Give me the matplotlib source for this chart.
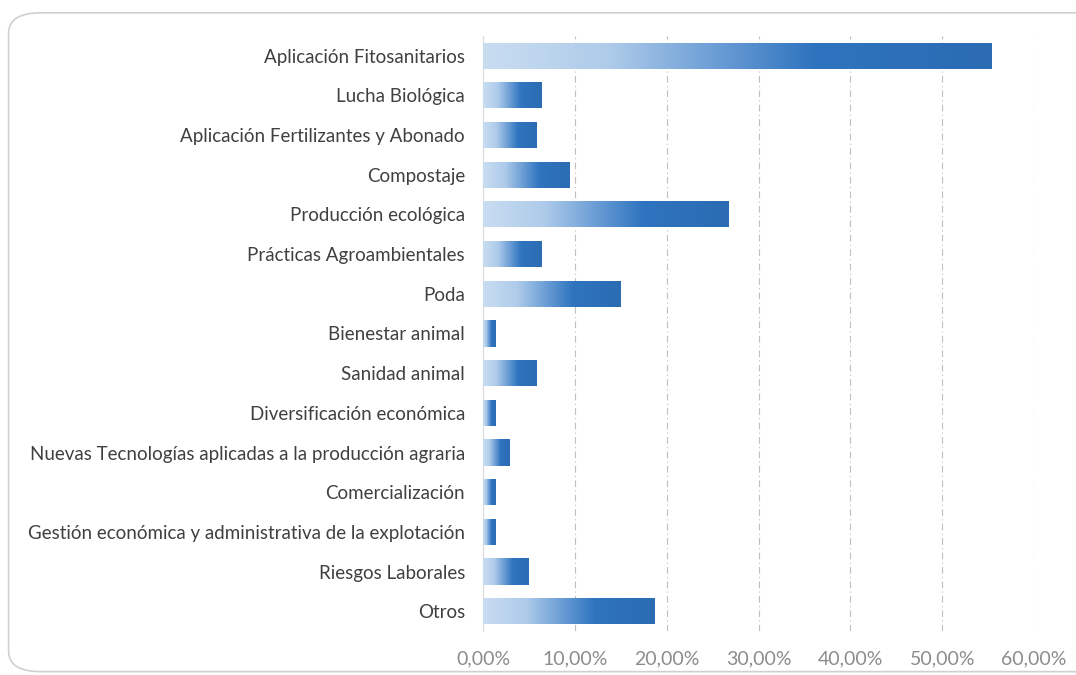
import numpy as np
import matplotlib
matplotlib.use("Agg")
import matplotlib.pyplot as plt
from matplotlib.colors import LinearSegmentedColormap
from matplotlib.patches import FancyBboxPatch
from matplotlib.ticker import FuncFormatter

# datos del gráfico
categorias = [
    "Aplicación Fitosanitarios",
    "Lucha Biológica",
    "Aplicación Fertilizantes y Abonado",
    "Compostaje",
    "Producción ecológica",
    "Prácticas Agroambientales",
    "Poda",
    "Bienestar animal",
    "Sanidad animal",
    "Diversificación económica",
    "Nuevas Tecnologías aplicadas a la producción agraria",
    "Comercialización",
    "Gestión económica y administrativa de la explotación",
    "Riesgos Laborales",
    "Otros",
]
porcentajes = [55.4, 6.4, 5.8, 9.4, 26.7, 6.4, 15.0, 1.4, 5.8, 1.4, 2.9, 1.4, 1.4, 5.0, 18.7]
ticks_x = [0, 10, 20, 30, 40, 50, 60]

plt.rcParams['font.family'] = ['Lato', 'DejaVu Sans']

fig = plt.figure(figsize=(10.76, 6.75), dpi=100)
ax = fig.add_axes([0.449, 0.065, 0.512, 0.882])

# marco redondeado (se sale por la derecha)
marco = FancyBboxPatch((0.008, 0.005), 1.05, 0.976, boxstyle="round,pad=0,rounding_size=0.03",
                       transform=fig.transFigure, facecolor="white", edgecolor="#d0d0d0",
                       linewidth=1.2, zorder=-10)
fig.patches.append(marco)

y = np.arange(len(categorias))
barras = ax.barh(y, porcentajes, height=0.66, color="none", edgecolor="none", zorder=3)

# degradado tipo Excel
cmap = LinearSegmentedColormap.from_list("excel_azul", [
    (0.0, "#c9ddf1"), (0.25, "#aecbea"), (0.45, "#6d9fd6"),
    (0.65, "#2f74bf"), (1.0, "#2b6cb3")])
grad = np.linspace(0, 1, 256).reshape(1, -1)
for b in barras:
    x0, y0 = b.get_x(), b.get_y()
    w, h = b.get_width(), b.get_height()
    im = ax.imshow(grad, cmap=cmap, aspect="auto", extent=(x0, x0 + w, y0 + h, y0),
                   zorder=3, interpolation="bicubic")
    im.set_clip_path(b)

ax.set_xlim(0, 60)
ax.set_ylim(len(categorias) - 0.5, -0.5)
ax.set_xticks(ticks_x)
ax.xaxis.set_major_formatter(FuncFormatter(lambda v, p: f"{v:.2f}%".replace(".", ",")))
ax.set_yticks(y)
ax.set_yticklabels(categorias)

ax.grid(axis="x", color="#bfbfbf", linestyle=(0, (6, 3, 1, 3)), linewidth=0.8, zorder=0)
for s in ["top", "right", "bottom"]:
    ax.spines[s].set_visible(False)
ax.spines["left"].set_color("#d9d9d9")
ax.tick_params(axis="both", length=0)
ax.tick_params(axis="y", labelsize=13.5, labelcolor="#404040", pad=13)
ax.tick_params(axis="x", labelsize=14, labelcolor="#8c8c8c", pad=14)

fig.savefig("out.png", dpi=100, facecolor="white")
